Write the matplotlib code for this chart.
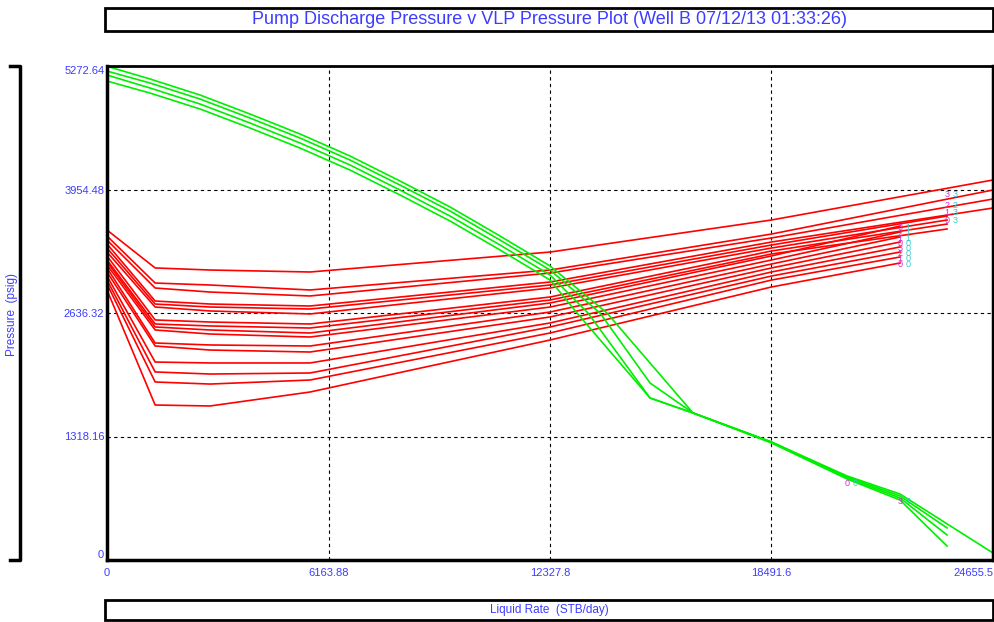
import numpy as np
import matplotlib
matplotlib.use("Agg")
import matplotlib.pyplot as plt
from matplotlib.lines import Line2D
from matplotlib.patches import Rectangle

title = "Pump Discharge Pressure v VLP Pressure Plot (Well B 07/12/13 01:33:26)"
x_label = "Liquid Rate  (STB/day)"
y_label = "Pressure  (psig)"

x_ticks = [0, 6163.88, 12327.8, 18491.6, 24655.5]
x_tick_labels = ["0", "6163.88", "12327.8", "18491.6", "24655.5"]
y_ticks = [0, 1318.16, 2636.32, 3954.48, 5272.64]
y_tick_labels = ["0", "1318.16", "2636.32", "3954.48", "5272.64"]

# VLP curves (red) - shared rates, then each curve has its own last rate
vlp_rates = [0, 1340, 2870, 5650, 12330, 18490]
vlp_end_rates = [24655, 24655, 24655, 24655,
                 23377, 23377, 23377, 23377,
                 22069, 22069, 22069, 22069, 22069, 22069, 22069, 22069]
vlp_pressures = [
    [3522, 3117, 3095, 3074, 3287, 3629, 4056],
    [3458, 2956, 2935, 2882, 3095, 3479, 3949],
    [3415, 2903, 2860, 2818, 3063, 3437, 3853],
    [3373, 2764, 2732, 2711, 2967, 3394, 3757],
    [3330, 2732, 2700, 2679, 2935, 3362, 3671],
    [3287, 2700, 2658, 2626, 2903, 3330, 3629],
    [3245, 2562, 2540, 2519, 2807, 3298, 3586],
    [3202, 2519, 2498, 2476, 2775, 3266, 3533],
    [3181, 2487, 2455, 2423, 2743, 3245, 3565],
    [3149, 2455, 2412, 2380, 2700, 3202, 3501],
    [3117, 2316, 2295, 2284, 2647, 3159, 3448],
    [3074, 2284, 2241, 2220, 2594, 3117, 3394],
    [3031, 2113, 2103, 2103, 2530, 3074, 3341],
    [2988, 2007, 1985, 1996, 2487, 3031, 3287],
    [2946, 1900, 1878, 1921, 2423, 2988, 3234],
    [2882, 1654, 1644, 1793, 2348, 2914, 3170],
]
# little case tags (magenta / cyan digits)
vlp_tag_rate = 23377
vlp_tags_top = [("3", "3"), ("2", "2"), ("1", "3"), ("0", "3")]
vlp_tags_end = [("3", "1"), ("2", "1"), ("1", "1"), ("0", "0"),
                ("3", "0"), ("2", "0"), ("1", "0"), ("0", "0")]

# pump discharge pressure curves (green)
pump_rates_upper = [0, 1197, 2588, 3980, 5371, 6763, 8154, 9546, 10937, 12330]
pump_pressures_upper = [
    [5270, 5134, 4963, 4760, 4547, 4312, 4045, 3768, 3458, 3138],
    [5219, 5091, 4920, 4717, 4504, 4269, 4002, 3725, 3415, 3095],
    [5176, 5038, 4867, 4664, 4451, 4216, 3949, 3671, 3362, 3042],
    [5112, 4984, 4814, 4611, 4397, 4162, 3896, 3618, 3309, 2988],
]
pump_rates_lower = [
    [13915, 16308, 18490, 20594, 22069, 24655],
    [13720, 15112, 16308, 18490, 20594, 22069, 23377],
    [13386, 15112, 16308, 18490, 20594, 22069, 23377],
    [13080, 15112, 16308, 18490, 20594, 22069, 23377],
]
pump_pressures_lower = [
    [2636, 1569, 1259, 897, 704, 75],
    [2636, 1889, 1569, 1259, 886, 683, 342],
    [2636, 1729, 1569, 1259, 875, 662, 267],
    [2636, 1729, 1569, 1249, 865, 640, 149],
]
pump_tag_rates = [20594, 22069]
pump_tags = [("0", "0"), ("3", "3")]

blue = "#3c3cff"
magenta = "#cc33cc"
cyan = "#33cccc"
font = ["Liberation Sans", "DejaVu Sans"]

fig = plt.figure(figsize=(9.95, 6.22), dpi=100)
ax = fig.add_axes([107 / 995, 62 / 622, 886 / 995, 494 / 622])


def tag(x, y, pair, dy=-1):
    ax.annotate(pair[0], (x, y), xytext=(0, dy), textcoords="offset points",
                ha="center", va="top", fontsize=6.5, color=magenta, family=font,
                zorder=5)
    ax.annotate(pair[1], (x, y), xytext=(5.5, dy), textcoords="offset points",
                ha="center", va="top", fontsize=6.5, color=cyan, family=font,
                zorder=5)


for i, p in enumerate(vlp_pressures):
    xs = vlp_rates + [vlp_end_rates[i]]
    ax.plot(xs, p, color="#ff0000", lw=1.2)
    if i < 4:
        tag(vlp_tag_rate, np.interp(vlp_tag_rate, xs, p), vlp_tags_top[i])
    elif i >= 8:
        tag(xs[-1], p[-1], vlp_tags_end[i - 8], dy=2)

pump_curves = []
for i in range(4):
    xs = pump_rates_upper + pump_rates_lower[i]
    ps = pump_pressures_upper[i] + pump_pressures_lower[i]
    pump_curves.append((xs, ps))
    ax.plot(xs, ps, color="#00ee00", lw=1.2)

xs, ps = pump_curves[3]
tag(pump_tag_rates[0], np.interp(pump_tag_rates[0], xs, ps), pump_tags[0], dy=0)
tag(pump_tag_rates[1], np.interp(pump_tag_rates[1], xs, ps), pump_tags[1], dy=2)

ax.set_xlim(0, 24655.5)
ax.set_ylim(0, 5272.64)
ax.set_xticks(x_ticks)
ax.set_xticklabels(x_tick_labels)
ax.set_yticks(y_ticks)
ax.set_yticklabels(y_tick_labels)
ax.tick_params(length=0, labelsize=8, labelcolor=blue)
ax.tick_params(axis="x", pad=6)
ax.tick_params(axis="y", pad=2)
xl = ax.get_xticklabels()
xl[-1].set_ha("right")
yl = ax.get_yticklabels()
yl[0].set_va("bottom")
yl[-1].set_va("top")
for t in xl + yl:
    t.set_family(font)

ax.grid(True, color="black", linestyle=(0, (3, 3)), linewidth=0.8)
for s in ["left", "bottom", "right"]:
    ax.spines[s].set_linewidth(2.5)
ax.spines["top"].set_linewidth(2)

# title box
fig.patches.append(Rectangle((105 / 995, 591 / 622), 888 / 995, 23 / 622,
                             transform=fig.transFigure, fill=False,
                             edgecolor="black", lw=2))
fig.text(549 / 995, 602 / 622, title, ha="center", va="center", color=blue,
         fontsize=13, family=font)

# x label box
fig.patches.append(Rectangle((105 / 995, 2 / 622), 888 / 995, 20 / 622,
                             transform=fig.transFigure, fill=False,
                             edgecolor="black", lw=2))
fig.text(549 / 995, 12 / 622, x_label, ha="center", va="center", color=blue,
         fontsize=8.5, family=font)

# y label bracket
fig.lines.append(Line2D([10 / 995, 20 / 995, 20 / 995, 10 / 995],
                        [556 / 622, 556 / 622, 62 / 622, 62 / 622],
                        transform=fig.transFigure, color="black", lw=2.5))
fig.text(12 / 995, 307 / 622, y_label, ha="center", va="center", rotation=90,
         color=blue, fontsize=8.5, family=font)

fig.savefig("out.png", dpi=100)
